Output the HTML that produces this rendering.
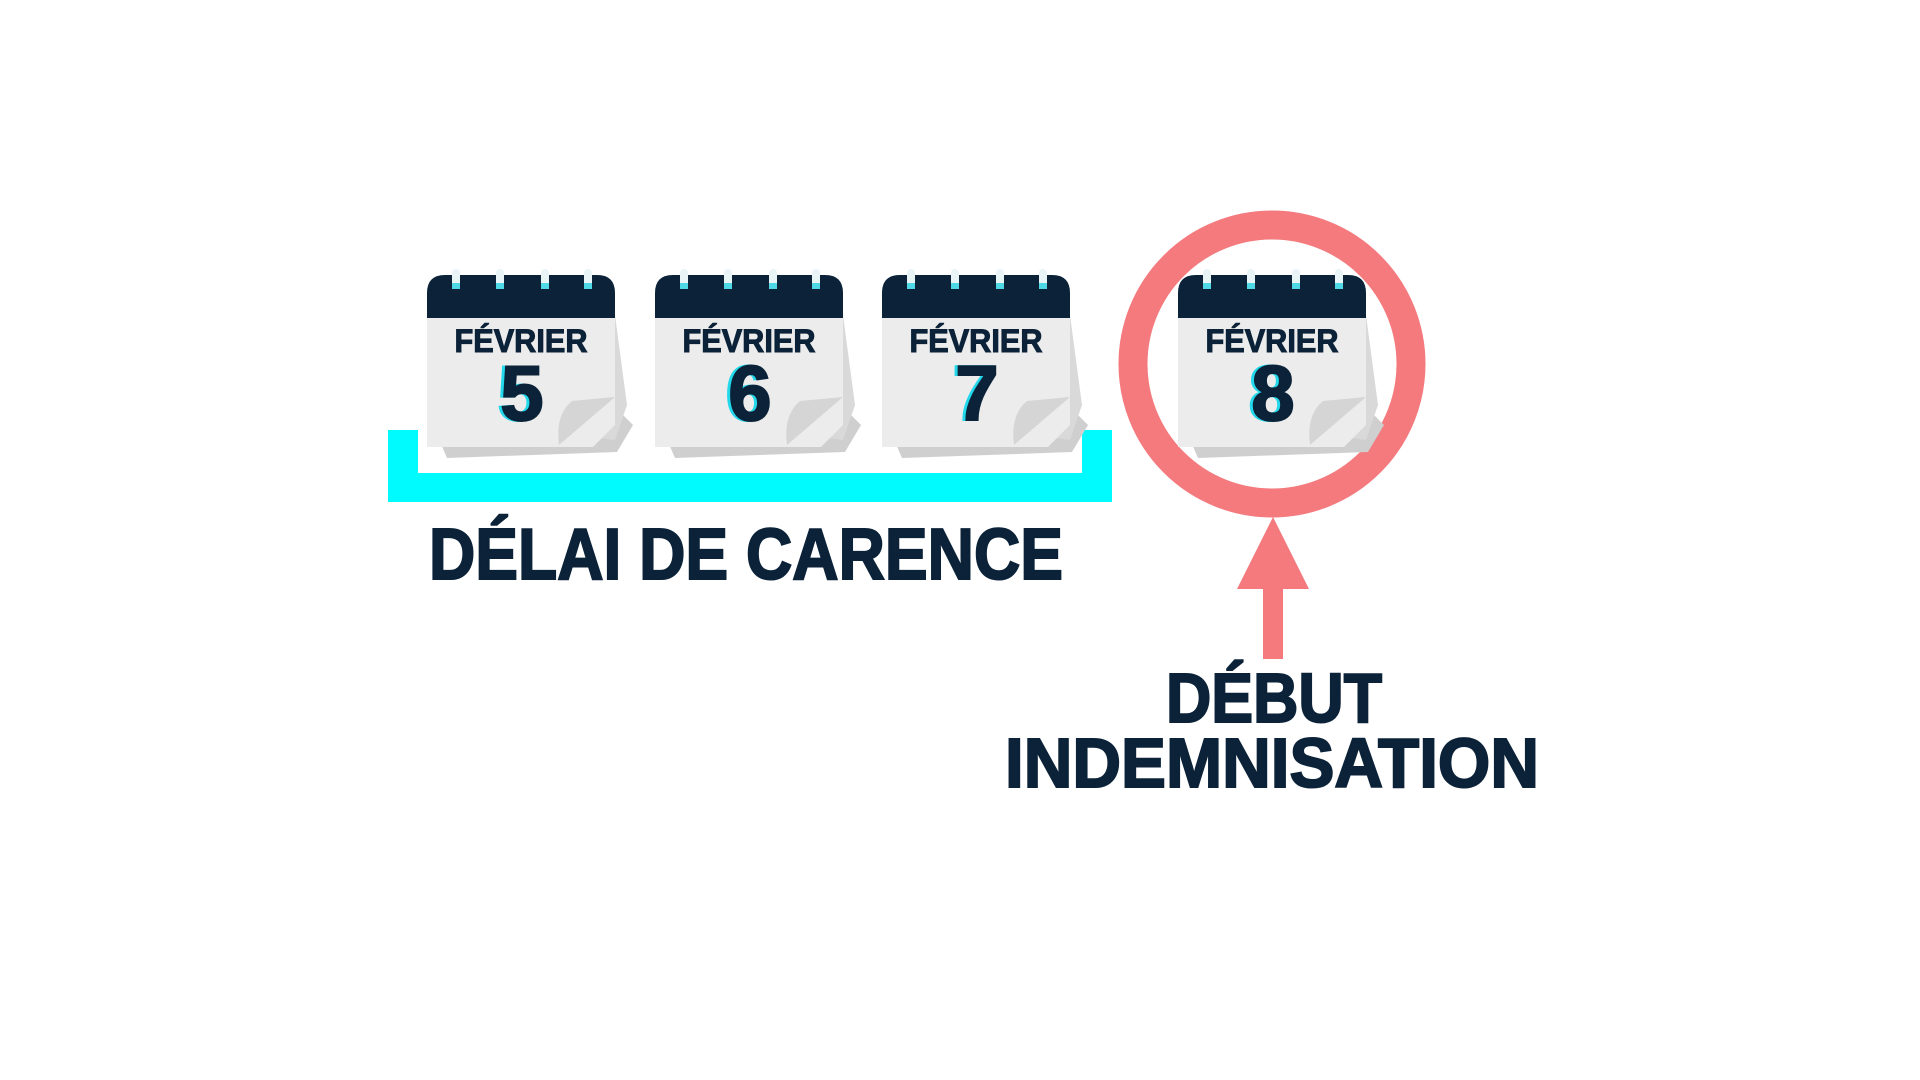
<!DOCTYPE html>
<html><head><meta charset="utf-8"><style>
html,body{margin:0;padding:0;background:#fff;width:1920px;height:1080px;overflow:hidden}
svg{display:block}
text{font-family:"Liberation Sans",sans-serif;font-weight:bold}
</style></head><body>
<svg width="1920" height="1080" viewBox="0 0 1920 1080">
<path d="M388 430 H418 V473 H1082 V430 H1112 V502 H388 Z" fill="#00fbff"/>
<circle cx="1272" cy="364" r="139" fill="none" stroke="#f47a7e" stroke-width="29"/>
<polygon points="1273,517 1309,589 1237,589" fill="#f47a7e"/>
<rect x="1263" y="588" width="20" height="71" fill="#f47a7e"/>

<g transform="translate(427,275)">
<path d="M10 160 L196 140 L206 150 L190 177 L20 183 Z" fill="#cfcfcf"/>
<path d="M150 40 L188 40 L200 130 L188 165 L150 160 Z" fill="#d9d9d9"/>
<path d="M0 43 H188 V150 L166 172 H0 Z" fill="#ececec"/>
<path d="M0 18 Q0 0 18 0 H170 Q188 0 188 18 V43 H0 Z" fill="#0b2238"/>
<rect x="25" y="-6" width="8" height="20" rx="4" fill="#e8f4f6"/><rect x="25" y="8" width="8" height="6" fill="#4fd8e6"/>
<rect x="69" y="-6" width="8" height="20" rx="4" fill="#e8f4f6"/><rect x="69" y="8" width="8" height="6" fill="#4fd8e6"/>
<rect x="114" y="-6" width="8" height="20" rx="4" fill="#e8f4f6"/><rect x="114" y="8" width="8" height="6" fill="#4fd8e6"/>
<rect x="157" y="-6" width="8" height="20" rx="4" fill="#e8f4f6"/><rect x="157" y="8" width="8" height="6" fill="#4fd8e6"/>
<path d="M132 170 Q128 140 145 126 L188 122 Z" fill="#d5d5d5"/>
<text x="94" y="77" font-size="32" text-anchor="middle" fill="#0b2238" stroke="#0b2238" stroke-width="1" textLength="133" lengthAdjust="spacingAndGlyphs">FÉVRIER</text>
<text x="92" y="145" font-size="78" text-anchor="middle" fill="#22d8ea" stroke="#22d8ea" stroke-width="2">5</text>
<text x="95" y="145" font-size="78" text-anchor="middle" fill="#0b2238" stroke="#0b2238" stroke-width="2">5</text>
</g>
<g transform="translate(655,275)">
<path d="M10 160 L196 140 L206 150 L190 177 L20 183 Z" fill="#cfcfcf"/>
<path d="M150 40 L188 40 L200 130 L188 165 L150 160 Z" fill="#d9d9d9"/>
<path d="M0 43 H188 V150 L166 172 H0 Z" fill="#ececec"/>
<path d="M0 18 Q0 0 18 0 H170 Q188 0 188 18 V43 H0 Z" fill="#0b2238"/>
<rect x="25" y="-6" width="8" height="20" rx="4" fill="#e8f4f6"/><rect x="25" y="8" width="8" height="6" fill="#4fd8e6"/>
<rect x="69" y="-6" width="8" height="20" rx="4" fill="#e8f4f6"/><rect x="69" y="8" width="8" height="6" fill="#4fd8e6"/>
<rect x="114" y="-6" width="8" height="20" rx="4" fill="#e8f4f6"/><rect x="114" y="8" width="8" height="6" fill="#4fd8e6"/>
<rect x="157" y="-6" width="8" height="20" rx="4" fill="#e8f4f6"/><rect x="157" y="8" width="8" height="6" fill="#4fd8e6"/>
<path d="M132 170 Q128 140 145 126 L188 122 Z" fill="#d5d5d5"/>
<text x="94" y="77" font-size="32" text-anchor="middle" fill="#0b2238" stroke="#0b2238" stroke-width="1" textLength="133" lengthAdjust="spacingAndGlyphs">FÉVRIER</text>
<text x="92" y="145" font-size="78" text-anchor="middle" fill="#22d8ea" stroke="#22d8ea" stroke-width="2">6</text>
<text x="95" y="145" font-size="78" text-anchor="middle" fill="#0b2238" stroke="#0b2238" stroke-width="2">6</text>
</g>
<g transform="translate(882,275)">
<path d="M10 160 L196 140 L206 150 L190 177 L20 183 Z" fill="#cfcfcf"/>
<path d="M150 40 L188 40 L200 130 L188 165 L150 160 Z" fill="#d9d9d9"/>
<path d="M0 43 H188 V150 L166 172 H0 Z" fill="#ececec"/>
<path d="M0 18 Q0 0 18 0 H170 Q188 0 188 18 V43 H0 Z" fill="#0b2238"/>
<rect x="25" y="-6" width="8" height="20" rx="4" fill="#e8f4f6"/><rect x="25" y="8" width="8" height="6" fill="#4fd8e6"/>
<rect x="69" y="-6" width="8" height="20" rx="4" fill="#e8f4f6"/><rect x="69" y="8" width="8" height="6" fill="#4fd8e6"/>
<rect x="114" y="-6" width="8" height="20" rx="4" fill="#e8f4f6"/><rect x="114" y="8" width="8" height="6" fill="#4fd8e6"/>
<rect x="157" y="-6" width="8" height="20" rx="4" fill="#e8f4f6"/><rect x="157" y="8" width="8" height="6" fill="#4fd8e6"/>
<path d="M132 170 Q128 140 145 126 L188 122 Z" fill="#d5d5d5"/>
<text x="94" y="77" font-size="32" text-anchor="middle" fill="#0b2238" stroke="#0b2238" stroke-width="1" textLength="133" lengthAdjust="spacingAndGlyphs">FÉVRIER</text>
<text x="92" y="145" font-size="78" text-anchor="middle" fill="#22d8ea" stroke="#22d8ea" stroke-width="2">7</text>
<text x="95" y="145" font-size="78" text-anchor="middle" fill="#0b2238" stroke="#0b2238" stroke-width="2">7</text>
</g>
<g transform="translate(1178,275)">
<path d="M10 160 L196 140 L206 150 L190 177 L20 183 Z" fill="#cfcfcf"/>
<path d="M150 40 L188 40 L200 130 L188 165 L150 160 Z" fill="#d9d9d9"/>
<path d="M0 43 H188 V150 L166 172 H0 Z" fill="#ececec"/>
<path d="M0 18 Q0 0 18 0 H170 Q188 0 188 18 V43 H0 Z" fill="#0b2238"/>
<rect x="25" y="-6" width="8" height="20" rx="4" fill="#e8f4f6"/><rect x="25" y="8" width="8" height="6" fill="#4fd8e6"/>
<rect x="69" y="-6" width="8" height="20" rx="4" fill="#e8f4f6"/><rect x="69" y="8" width="8" height="6" fill="#4fd8e6"/>
<rect x="114" y="-6" width="8" height="20" rx="4" fill="#e8f4f6"/><rect x="114" y="8" width="8" height="6" fill="#4fd8e6"/>
<rect x="157" y="-6" width="8" height="20" rx="4" fill="#e8f4f6"/><rect x="157" y="8" width="8" height="6" fill="#4fd8e6"/>
<path d="M132 170 Q128 140 145 126 L188 122 Z" fill="#d5d5d5"/>
<text x="94" y="77" font-size="32" text-anchor="middle" fill="#0b2238" stroke="#0b2238" stroke-width="1" textLength="133" lengthAdjust="spacingAndGlyphs">FÉVRIER</text>
<text x="92" y="145" font-size="78" text-anchor="middle" fill="#22d8ea" stroke="#22d8ea" stroke-width="2">8</text>
<text x="95" y="145" font-size="78" text-anchor="middle" fill="#0b2238" stroke="#0b2238" stroke-width="2">8</text>
</g>

<text x="429" y="579" font-size="72" fill="#0b2238" stroke="#0b2238" stroke-width="2" textLength="634" lengthAdjust="spacingAndGlyphs">DÉLAI DE CARENCE</text>
<text x="1166" y="722" font-size="70" fill="#0b2238" stroke="#0b2238" stroke-width="2" textLength="216" lengthAdjust="spacingAndGlyphs">DÉBUT</text>
<text x="1005" y="787" font-size="70" fill="#0b2238" stroke="#0b2238" stroke-width="2" textLength="534" lengthAdjust="spacingAndGlyphs">INDEMNISATION</text>
</svg>
</body></html>
